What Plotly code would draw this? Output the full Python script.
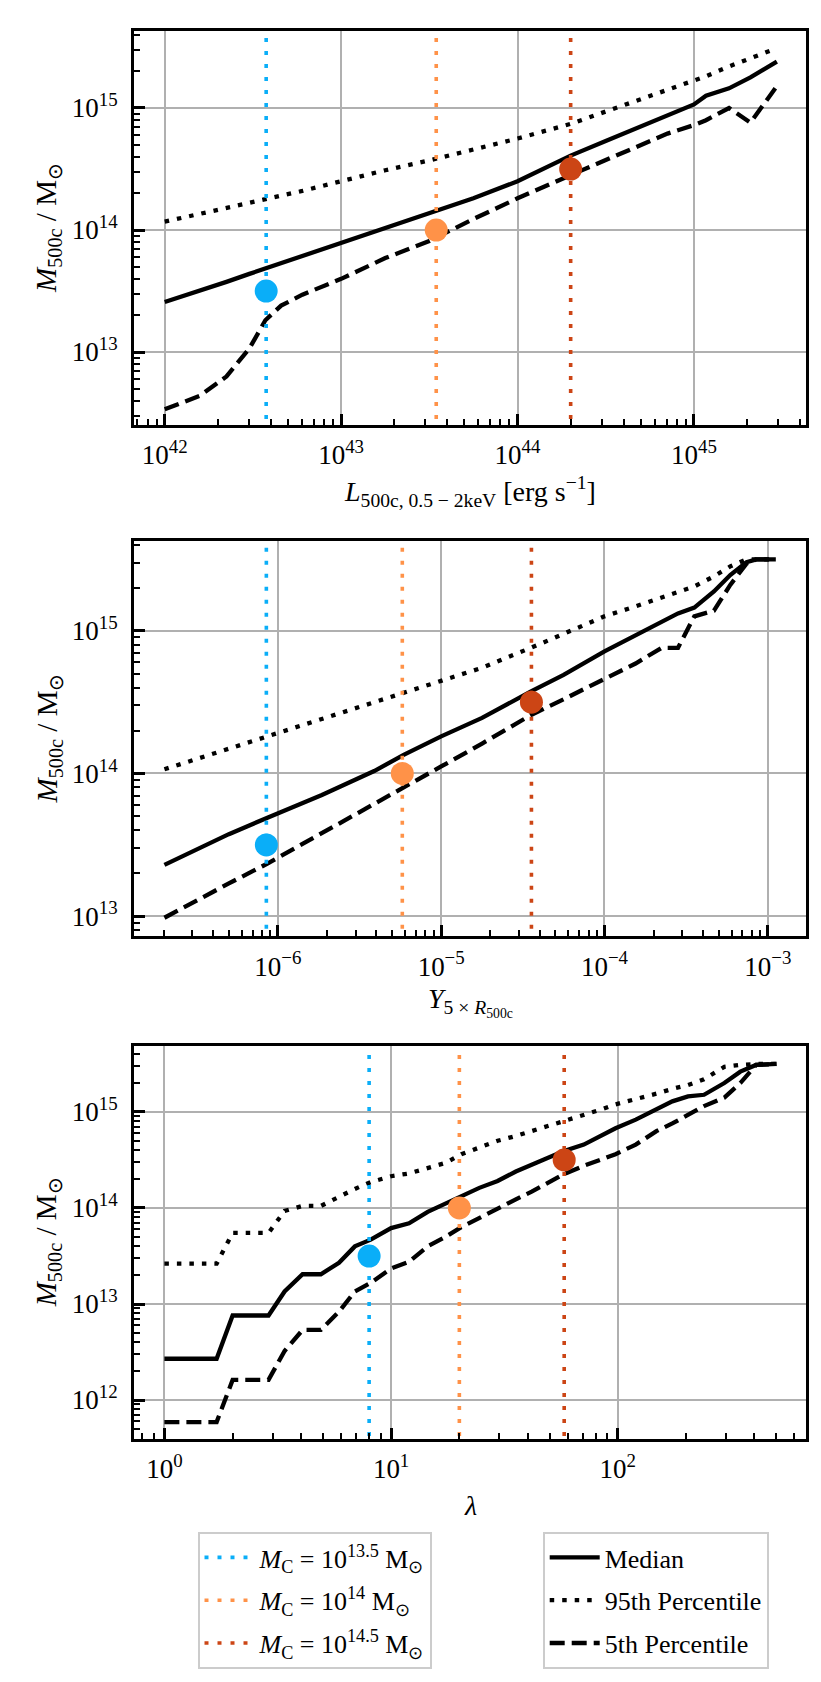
import plotly.graph_objects as go

# ---------------- data ----------------
# Panel 1: X-ray luminosity
L_x = [1.0e42, 1.58e42, 2.24e42, 3.02e42, 3.72e42, 4.57e42, 6.03e42, 1.0e43, 1.78e43, 3.16e43,
       5.62e43, 1.0e44, 2.0e44, 3.16e44, 5.01e44, 7.08e44, 1.0e45, 1.17e45, 1.58e45, 2.09e45, 2.95e45]
L_median = [2.57e13, 3.16e13, 3.76e13, 4.37e13, 4.84e13, 5.25e13, 6.03e13, 7.76e13, 1.02e14, 1.35e14,
            1.82e14, 2.51e14, 4.07e14, 5.37e14, 7.08e14, 8.71e14, 1.07e15, 1.26e15, 1.45e15, 1.78e15, 2.40e15]
L_p95 = [1.17e14, 1.35e14, 1.51e14, 1.68e14, 1.80e14, 1.91e14, 2.09e14, 2.51e14, 3.09e14, 3.72e14,
         4.57e14, 5.62e14, 7.41e14, 9.33e14, 1.20e15, 1.41e15, 1.70e15, 1.82e15, 2.19e15, 2.57e15, 3.09e15]
L_p5 = [3.39e12, 4.37e12, 6.31e12, 1.07e13, 1.82e13, 2.40e13, 2.95e13, 3.98e13, 5.89e13, 8.13e13,
        1.23e14, 1.82e14, 2.82e14, 3.72e14, 5.01e14, 6.17e14, 7.24e14, 7.94e14, 1.0e15, 7.59e14, 1.51e15]
L_C = [3.76e42, 3.46e43, 2.0e44]

# Panel 2: SZ Y
Y_x = [2.02e-7, 3.16e-7, 5.01e-7, 8.63e-7, 1.86e-6, 3.89e-6, 5.89e-6, 1.0e-5, 1.78e-5, 3.55e-5,
       5.62e-5, 1.0e-4, 1.55e-4, 2.24e-4, 2.82e-4, 3.55e-4, 4.68e-4, 5.89e-4, 7.41e-4, 8.51e-4, 1.12e-3]
Y_median = [2.29e13, 2.92e13, 3.76e13, 4.90e13, 7.08e13, 1.04e14, 1.35e14, 1.82e14, 2.45e14, 3.76e14,
            4.90e14, 7.16e14, 9.33e14, 1.17e15, 1.32e15, 1.45e15, 1.88e15, 2.45e15, 3.02e15, 3.16e15, 3.16e15]
Y_p95 = [1.07e14, 1.26e14, 1.48e14, 1.82e14, 2.40e14, 3.16e14, 3.67e14, 4.47e14, 5.50e14, 7.59e14,
         9.55e14, 1.26e15, 1.48e15, 1.70e15, 1.86e15, 2.04e15, 2.40e15, 2.82e15, 3.16e15, 3.16e15, 3.16e15]
Y_p5 = [9.77e12, 1.29e13, 1.70e13, 2.34e13, 3.80e13, 6.17e13, 7.94e13, 1.12e14, 1.62e14, 2.57e14,
        3.31e14, 4.57e14, 5.89e14, 7.59e14, 7.59e14, 1.26e15, 1.38e15, 2.09e15, 2.95e15, 3.16e15, 3.16e15]
Y_C = [8.5e-7, 5.78e-6, 3.57e-5]

# Panel 3: richness lambda
lam_x = [1.0, 1.70, 2.0, 2.88, 3.39, 4.07, 4.90, 5.89, 6.92, 8.13, 10.0, 12.0, 14.5, 17.4, 20.4, 24.5,
         29.5, 35.5, 41.7, 50.1, 57.5, 70.8, 83.2, 97.7, 120, 148, 174, 204, 240, 295, 347, 407, 501]
lam_median = [2.69e12, 2.69e12, 7.59e12, 7.59e12, 1.35e13, 2.04e13, 2.04e13, 2.69e13, 3.98e13, 4.68e13,
              6.17e13, 6.92e13, 9.12e13, 1.12e14, 1.32e14, 1.62e14, 1.91e14, 2.40e14, 2.82e14, 3.39e14,
              3.89e14, 4.57e14, 5.62e14, 6.76e14, 8.32e14, 1.07e15, 1.29e15, 1.45e15, 1.51e15, 2.0e15,
              2.63e15, 3.09e15, 3.16e15]
lam_p95 = [2.63e13, 2.63e13, 5.50e13, 5.50e13, 9.33e13, 1.05e14, 1.05e14, 1.32e14, 1.58e14, 1.86e14,
           2.14e14, 2.29e14, 2.63e14, 2.95e14, 3.63e14, 4.27e14, 5.01e14, 5.62e14, 6.31e14, 7.24e14,
           7.94e14, 9.12e14, 1.05e15, 1.20e15, 1.35e15, 1.55e15, 1.74e15, 1.91e15, 2.19e15, 2.95e15,
           3.09e15, 3.16e15, 3.16e15]
lam_p5 = [5.89e11, 5.89e11, 1.62e12, 1.62e12, 3.24e12, 5.37e12, 5.37e12, 8.32e12, 1.35e13, 1.66e13,
          2.34e13, 2.75e13, 3.98e13, 5.01e13, 6.31e13, 7.94e13, 1.0e14, 1.23e14, 1.48e14, 1.86e14,
          2.24e14, 2.75e14, 3.16e14, 3.63e14, 4.57e14, 6.31e14, 7.59e14, 9.33e14, 1.15e15, 1.41e15,
          2.0e15, 3.09e15, 3.16e15]
lam_C = [8.0, 20.0, 58.0]

M_C = [3.16e13, 1.0e14, 3.16e14]
M_C_labels = ["13.5", "14", "14.5"]
colors_C = ["#0AAEF8", "#FF9248", "#CC4515"]

x_tickexp = [[42, 43, 44, 45], [-6, -5, -4, -3], [0, 1, 2]]
y_tickexp = [[13, 14, 15], [13, 14, 15], [12, 13, 14, 15]]
x_titles = ["<i>L</i><sub>500c, 0.5 − 2keV</sub> [erg s<sup>−1</sup>]",
            "<i>Y</i><sub>5 × <i>R</i><sub>500c</sub></sub>",
            "<i>λ</i>"]
y_title = "<i>M</i><sub>500c</sub> / M<sub>⊙</sub>"

# ---------------- layout geometry ----------------
W, H = 821, 1682
x_dom = [126 / W, 798 / W]
panels_px = [(23, 417), (532.7, 928.3), (1037.7, 1431)]
x_ranges = [[41.826, 45.635], [-6.881, -2.766], [-0.134, 2.830]]
y_ranges = [[12.402, 15.631], [12.860, 15.630], [11.594, 15.69]]

FONT = "Liberation Serif"

fig = go.Figure()

series_sets = [
    (L_x, L_median, L_p95, L_p5, L_C),
    (Y_x, Y_median, Y_p95, Y_p5, Y_C),
    (lam_x, lam_median, lam_p95, lam_p5, lam_C),
]
styles = [("Median", "solid"), ("95th Percentile", "4.5px,8px"), ("5th Percentile", "15px,7px")]

for i, (xs, med, p95, p5, xc) in enumerate(series_sets):
    xa = "x" if i == 0 else f"x{i+1}"
    ya = "y" if i == 0 else f"y{i+1}"
    for j, ((name, dash), ys) in enumerate(zip(styles, [med, p95, p5])):
        fig.add_trace(go.Scatter(x=xs, y=ys, mode="lines", name=name, xaxis=xa, yaxis=ya,
                                 line=dict(color="black", width=4.3, dash=dash),
                                 legend="legend2", legendgroup=f"s{j}", showlegend=(i == 0)))
    for k in range(3):
        fig.add_trace(go.Scatter(x=[xc[k], xc[k]], y=[1e10, 1e17], mode="lines", xaxis=xa, yaxis=ya,
                                 name=f"<i>M</i><sub>C</sub> = 10<sup>{M_C_labels[k]}</sup> M<sub>⊙</sub>",
                                 line=dict(color=colors_C[k], width=3.6, dash="4px,9px"),
                                 legend="legend", legendgroup=f"c{k}", showlegend=(i == 0)))
    fig.add_trace(go.Scatter(x=xc, y=M_C, mode="markers", xaxis=xa, yaxis=ya, showlegend=False,
                             marker=dict(color=colors_C, size=23, line=dict(width=0))))

def minor_vals(lo, hi):
    vals = []
    for e in range(int(lo) - 1, int(hi) + 2):
        for d in range(2, 10):
            vals.append(d * 10.0 ** e)
    return vals

def fmt_exp(e):
    s = str(e).replace("-", "−")
    return f"10<sup>{s}</sup>"

annotations = []
for i in range(3):
    top_px, bot_px = panels_px[i]
    ydom = [1 - bot_px / H, 1 - top_px / H]
    sfx = "" if i == 0 else str(i + 1)
    common = dict(type="log", showline=True, linecolor="black", linewidth=2.8, mirror=True,
                  ticks="inside", ticklen=11, tickwidth=2.5, tickcolor="black",
                  showgrid=True, gridcolor="#b0b0b0", gridwidth=2.2, zeroline=False,
                  tickfont=dict(family=FONT, size=27, color="black"), automargin=False)
    xv = x_tickexp[i]
    yv = y_tickexp[i]
    fig.layout["xaxis" + sfx] = dict(
        common, domain=x_dom, range=x_ranges[i], anchor="y" + sfx,
        tickmode="array", tickvals=[10.0 ** e for e in xv], ticktext=[fmt_exp(e) for e in xv],
        ticklabelstandoff=4,
        minor=dict(tickmode="array", tickvals=minor_vals(*x_ranges[i]), ticks="inside",
                   ticklen=6, tickwidth=2, tickcolor="black", showgrid=False))
    fig.layout["yaxis" + sfx] = dict(
        common, domain=ydom, range=y_ranges[i], anchor="x" + sfx,
        tickmode="array", tickvals=[10.0 ** e for e in yv], ticktext=[fmt_exp(e) for e in yv],
        ticklabelstandoff=8,
        minor=dict(tickmode="array", tickvals=minor_vals(*y_ranges[i]), ticks="inside",
                   ticklen=6, tickwidth=2, tickcolor="black", showgrid=False))
    # axis titles
    annotations.append(dict(text=x_titles[i], xref="paper", yref="paper",
                            x=(x_dom[0] + x_dom[1]) / 2, y=1 - (bot_px + 66) / H,
                            xanchor="center", yanchor="middle", showarrow=False,
                            font=dict(family=FONT, size=28, color="black")))
    annotations.append(dict(text=y_title, xref="paper", yref="paper",
                            x=40 / W, y=1 - (top_px + bot_px) / 2 / H, textangle=-90,
                            xanchor="center", yanchor="middle", showarrow=False,
                            font=dict(family=FONT, size=29, color="black")))

fig.update_layout(
    width=W, height=H, margin=dict(l=0, r=0, t=0, b=0),
    paper_bgcolor="white", plot_bgcolor="white",
    font=dict(family=FONT, size=26, color="black"),
    annotations=annotations,
    legend=dict(x=189.5 / W, y=1 - 1524 / H, xanchor="left", yanchor="top",
                bgcolor="white", bordercolor="#cccccc", borderwidth=2,
                font=dict(family=FONT, size=26, color="black"), itemwidth=50,
                tracegroupgap=6),
    legend2=dict(x=534.7 / W, y=1 - 1524 / H, xanchor="left", yanchor="top",
                 bgcolor="white", bordercolor="#cccccc", borderwidth=2,
                 font=dict(family=FONT, size=26, color="black"), itemwidth=50,
                 tracegroupgap=6),
)

fig.write_html("out.html")
